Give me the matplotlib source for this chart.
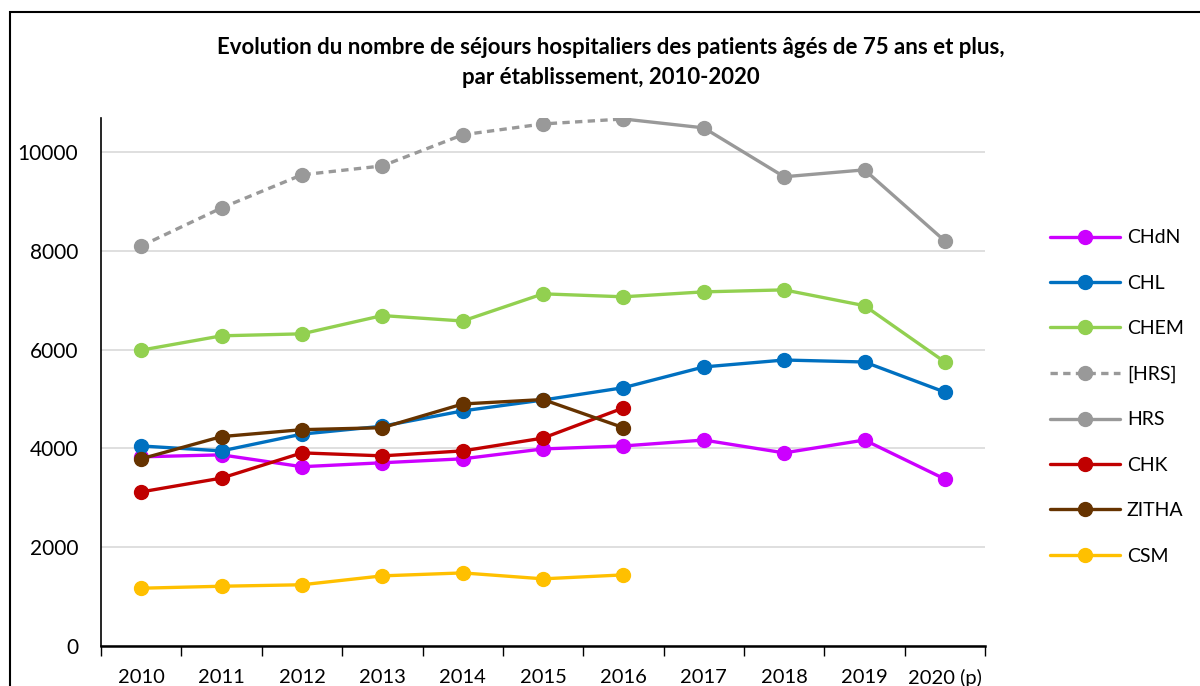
import numpy as np
import matplotlib
matplotlib.use("Agg")
import matplotlib.pyplot as plt
from matplotlib.patches import Rectangle

plt.rcParams["font.family"] = ["Lato", "DejaVu Sans"]

years = ["2010", "2011", "2012", "2013", "2014", "2015", "2016",
         "2017", "2018", "2019", "2020 (p)"]
nan = np.nan
chdn = [3830, 3870, 3630, 3710, 3790, 3990, 4050, 4170, 3910, 4170, 3380]
chl = [4050, 3950, 4290, 4450, 4760, 4980, 5230, 5650, 5790, 5750, 5140]
chem = [5990, 6280, 6320, 6690, 6580, 7130, 7070, 7170, 7210, 6890, 5750]
hrs_est = [8100, 8870, 9540, 9720, 10350, 10570, 10670, nan, nan, nan, nan]
hrs = [nan, nan, nan, nan, nan, nan, 10670, 10490, 9500, 9640, 8200]
chk = [3120, 3400, 3910, 3850, 3950, 4210, 4820, nan, nan, nan, nan]
zitha = [3790, 4240, 4380, 4420, 4900, 4990, 4420, nan, nan, nan, nan]
csm = [1170, 1210, 1240, 1420, 1480, 1360, 1440, nan, nan, nan, nan]

series = [
    ("CHdN", chdn, "#CC00FF", "-"),
    ("CHL", chl, "#0070C0", "-"),
    ("CHEM", chem, "#92D050", "-"),
    ("[HRS]", hrs_est, "#999999", (0, (2.2, 1.6))),
    ("HRS", hrs, "#999999", "-"),
    ("CHK", chk, "#C00000", "-"),
    ("ZITHA", zitha, "#663300", "-"),
    ("CSM", csm, "#FFC000", "-"),
]

fig = plt.figure(figsize=(12, 6.86), dpi=100)
ax = fig.add_axes([0.0842, 0.0583, 0.7367, 0.7697])

x = np.arange(len(years))
for name, vals, col, ls in series:
    ax.plot(x, vals, color=col, ls=ls, lw=2.4, marker="o", ms=10,
            label=name, solid_capstyle="round", dash_capstyle="butt")

ax.set_xlim(-0.5, len(years) - 0.5)
ax.set_ylim(0, 10690)
ax.set_yticks(range(0, 10001, 2000))
ax.yaxis.grid(True, color="#D9D9D9", lw=1.2)
ax.set_axisbelow(True)
ax.tick_params(axis="y", length=0, labelsize=15, pad=16.5)

# tick marks sit on the category boundaries, labels on the centres
ax.set_xticks(np.arange(-0.5, len(years), 1.0))
ax.set_xticklabels([])
ax.set_xticks(x, minor=True)
ax.set_xticklabels(years, minor=True)
ax.tick_params(axis="x", which="major", length=7, width=1.0, color="black")
ax.tick_params(axis="x", which="minor", length=0, labelsize=14.5, pad=16.5)

for s in ["top", "right"]:
    ax.spines[s].set_visible(False)
ax.spines["left"].set_linewidth(1.2)
ax.spines["bottom"].set_linewidth(1.8)

fig.text(0.509, 0.9089,
         "Evolution du nombre de séjours hospitaliers des patients âgés de 75 ans et plus,\n"
         "par établissement, 2010-2020",
         ha="center", va="center", fontsize=16, fontweight="bold", linespacing=1.5)

ax.legend(loc="center left", bbox_to_anchor=(1050 / 1200, 0.4213),
          bbox_transform=fig.transFigure, frameon=False, fontsize=14,
          handlelength=3.6, handletextpad=0.35, labelspacing=1.46,
          borderpad=0, borderaxespad=0)

fig.add_artist(Rectangle((10 / 1200, -0.05), 1.0, 1.0325, transform=fig.transFigure,
                         fill=False, ec="black", lw=1.5))

fig.savefig("out.png", dpi=100)
